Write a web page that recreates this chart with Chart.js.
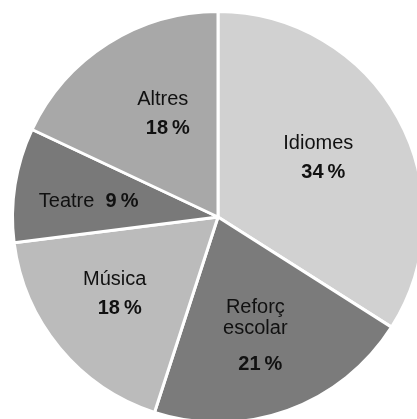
<!DOCTYPE html>
<html>
<head>
<meta charset="utf-8">
<script src="https://cdn.jsdelivr.net/npm/chart.js"></script>
<style>
  html, body { margin: 0; padding: 0; background: #fff; overflow: hidden; }
  #wrap { position: absolute; left: 0; top: 0; width: 436px; height: 434px; }
</style>
</head>
<body>
<div id="wrap"><canvas id="pie" width="436" height="434"></canvas></div>
<script>
// activity shares (percent), clockwise from the top
var categories = [['Idiomes'], ['Reforç', 'escolar'], ['Música'], ['Teatre'], ['Altres']];
var values = [34, 21, 18, 9, 18];
var colors = ['#d1d1d1', '#7b7b7b', '#bbbbbb', '#797979', '#a8a8a8'];
// label block placement inside each slice: fraction of the sweep, fraction of the radius
var labelSweep = [0.49, 0.52, 0.535, 0.43, 0.58];
var labelRadius = [0.575, 0.61, 0.62, 0.634, 0.566];

var FONT = '"Liberation Sans", Arial, sans-serif';
var SIZE = 20;

var sliceLabels = {
    id: 'sliceLabels',
    afterDatasetsDraw: function(chart) {
        var ctx = chart.ctx;
        var arcs = chart.getDatasetMeta(0).data;
        ctx.save();
        ctx.fillStyle = '#111111';
        ctx.textBaseline = 'middle';
        arcs.forEach(function(arc, i) {
            var p = arc.getProps(['x', 'y', 'startAngle', 'endAngle', 'outerRadius'], true);
            var a = p.startAngle + (p.endAngle - p.startAngle) * labelSweep[i];
            var r = p.outerRadius * labelRadius[i];
            var cx = p.x + Math.cos(a) * r;
            var cy = p.y + Math.sin(a) * r;
            var name = categories[i];
            var pct = values[i] + '\u2009%';

            if (name.length === 1 && values[i] < 10) {
                // narrow slice: name and value on one line
                ctx.font = SIZE + 'px ' + FONT;
                var w1 = ctx.measureText(name[0] + '  ').width;
                ctx.font = 'bold ' + SIZE + 'px ' + FONT;
                var w2 = ctx.measureText(pct).width;
                var x0 = cx - (w1 + w2) / 2;
                ctx.textAlign = 'left';
                ctx.font = SIZE + 'px ' + FONT;
                ctx.fillText(name[0], x0, cy);
                ctx.font = 'bold ' + SIZE + 'px ' + FONT;
                ctx.fillText(pct, x0 + w1, cy);
                return;
            }

            ctx.textAlign = 'center';
            var lineH = 21;
            var gap = name.length > 1 ? 36 : 29;
            var total = (name.length - 1) * lineH + gap;
            var y = cy - total / 2;
            ctx.font = SIZE + 'px ' + FONT;
            name.forEach(function(line, k) {
                ctx.fillText(line, cx - 2, y + k * lineH);
            });
            ctx.font = 'bold ' + SIZE + 'px ' + FONT;
            ctx.fillText(pct, cx + 3, y + (name.length - 1) * lineH + gap);
        });
        ctx.restore();
    }
};

new Chart(document.getElementById('pie').getContext('2d'), {
    type: 'pie',
    data: {
        labels: categories,
        datasets: [{
            data: values,
            backgroundColor: colors,
            borderColor: '#ffffff',
            borderWidth: 3
        }]
    },
    options: {
        responsive: false,
        devicePixelRatio: 1,
        animation: false,
        layout: { padding: 10 },
        plugins: {
            legend: { display: false },
            tooltip: { enabled: false }
        }
    },
    plugins: [sliceLabels]
});
</script>
</body>
</html>
